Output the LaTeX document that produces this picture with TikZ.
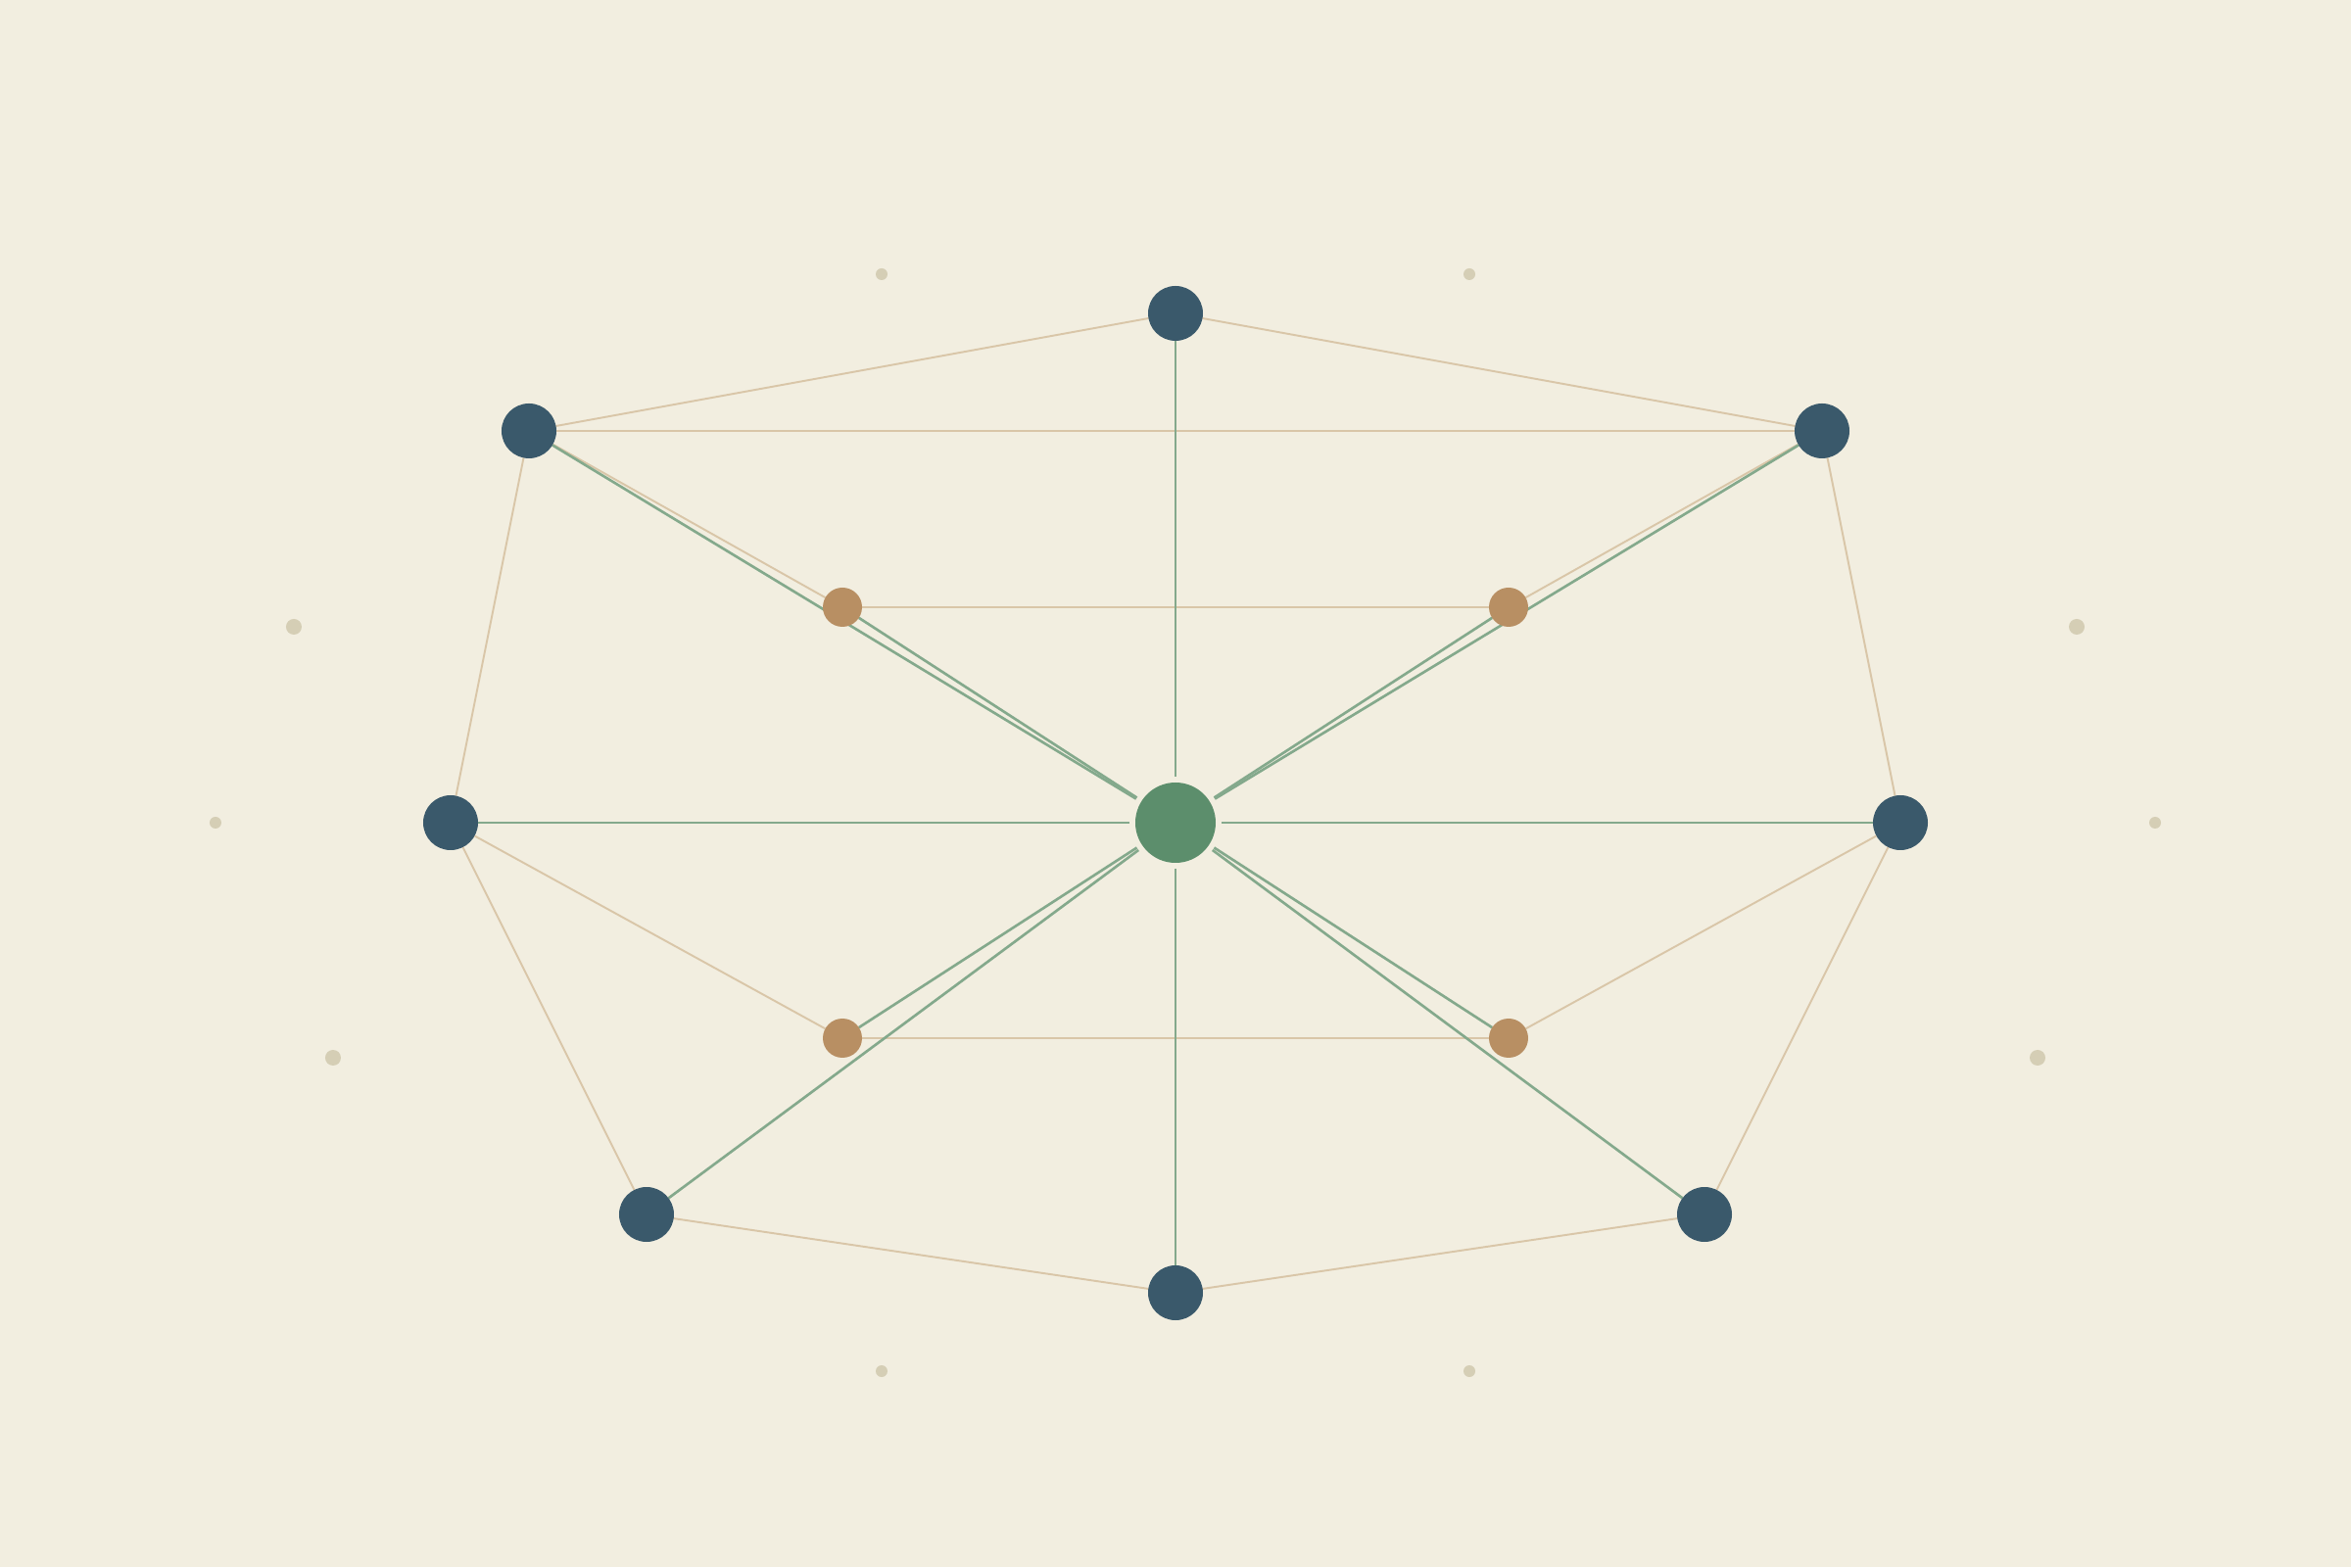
\documentclass[tikz,border=0pt]{standalone}
\usetikzlibrary{backgrounds}
\definecolor{paper}{HTML}{F2EEE0}
\definecolor{slate}{HTML}{3A596B}
\definecolor{sage}{HTML}{5C8E6C}
\definecolor{sagelight}{HTML}{84A98C}
\definecolor{clay}{HTML}{B88F63}
\definecolor{sand}{HTML}{D9C6A8}
\definecolor{speck}{HTML}{D5CEB5}
\tikzset{
  rimnode/.style={circle, fill=slate, minimum size=5.6mm, inner sep=0, outer sep=0},
  midnode/.style={circle, fill=clay, minimum size=4mm, inner sep=0, outer sep=0},
  hubnode/.style={circle, fill=sage, minimum size=8.2mm, inner sep=0, outer sep=0.6mm},
  spoke/.style={draw=sagelight, line width=0.75pt},
  rim/.style={draw=sand, line width=0.55pt},
}
\begin{document}
\begin{tikzpicture}
			%%%%% START %%%%%
			\useasboundingbox (-12, -7.6) rectangle (12, 8.4);
			
			\node[hubnode] (hub) at (0, 0) {};
			
			\node[rimnode] (top) at (0, 5.2) {};
			\node[rimnode] (ul) at (-6.6, 4.0) {};
			\node[rimnode] (ur) at (6.6, 4.0) {};
			\node[rimnode] (lt) at (-7.4, 0) {};
			\node[rimnode] (rt) at (7.4, 0) {};
			\node[rimnode] (ll) at (-5.4, -4.0) {};
			\node[rimnode] (lr) at (5.4, -4.0) {};
			\node[rimnode] (bot) at (0, -4.8) {};
			
			\node[midnode] (mul) at (-3.4, 2.2) {};
			\node[midnode] (mur) at (3.4, 2.2) {};
			\node[midnode] (mll) at (-3.4, -2.2) {};
			\node[midnode] (mlr) at (3.4, -2.2) {};
			
			\begin{scope}[on background layer]
			\fill[paper] (-12, -7.6) rectangle (12, 8.4);
			
			\fill[speck] (-3, 5.6) circle (0.06);
			\fill[speck] (3, 5.6) circle (0.06);
			\fill[speck] (-9, 2) circle (0.08);
			\fill[speck] (9.2, 2) circle (0.08);
			\fill[speck] (-9.8, 0) circle (0.06);
			\fill[speck] (10, 0) circle (0.06);
			\fill[speck] (-8.6, -2.4) circle (0.08);
			\fill[speck] (8.8, -2.4) circle (0.08);
			\fill[speck] (-3, -5.6) circle (0.06);
			\fill[speck] (3, -5.6) circle (0.06);
			
			\draw[rim] (top) -- (ul) -- (lt) -- (ll) -- (bot) -- (lr) -- (rt) -- (ur) -- (top);
			\draw[rim] (ul) -- (ur);
			\draw[rim] (ul) -- (mul) -- (mur) -- (ur);
			\draw[rim] (lt) -- (mll) -- (mlr) -- (rt);
			
			\draw[spoke] (hub) -- (top);
			\draw[spoke] (hub) -- (bot);
			\draw[spoke] (hub) -- (lt);
			\draw[spoke] (hub) -- (rt);
			\draw[spoke] (hub) -- (ul);
			\draw[spoke] (hub) -- (ur);
			\draw[spoke] (hub) -- (ll);
			\draw[spoke] (hub) -- (lr);
			\draw[spoke] (hub) -- (mul);
			\draw[spoke] (hub) -- (mur);
			\draw[spoke] (hub) -- (mll);
			\draw[spoke] (hub) -- (mlr);
			\end{scope}
			%%%%% END %%%%%
\end{tikzpicture}
\end{document}
